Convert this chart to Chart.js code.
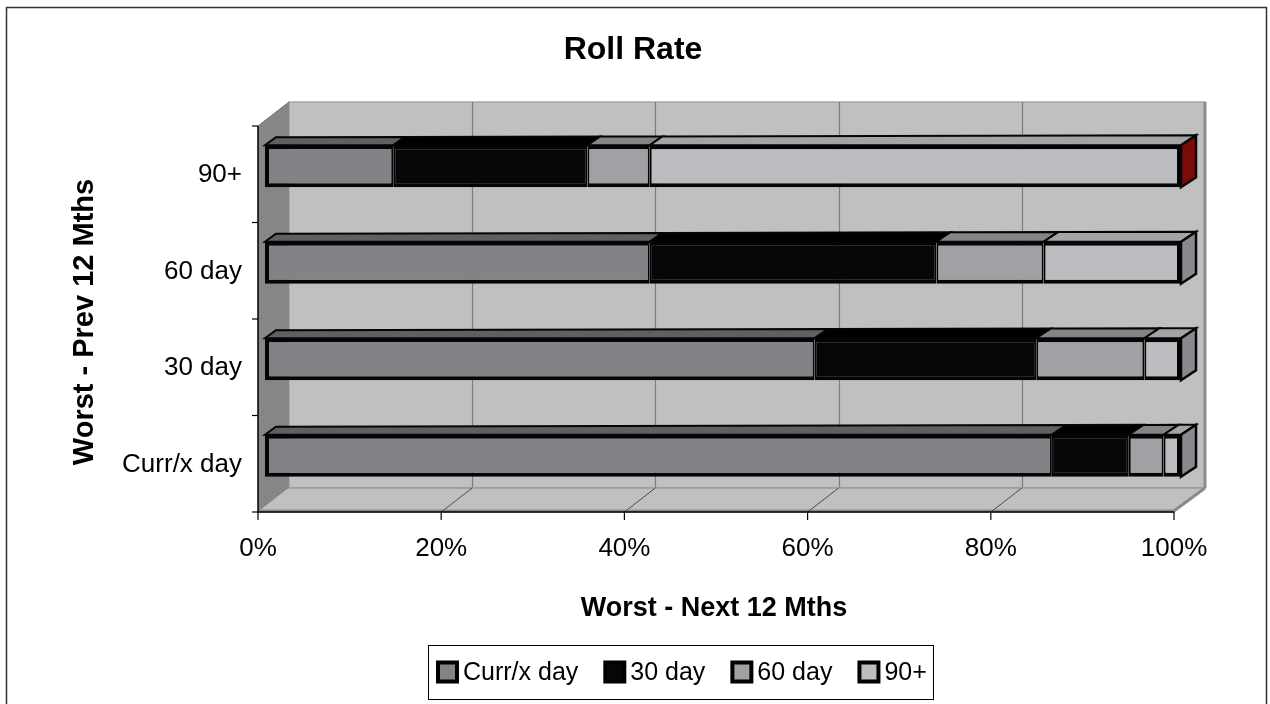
<!DOCTYPE html>
<html>
<head>
<meta charset="utf-8">
<title>Roll Rate</title>
<script src="https://cdn.jsdelivr.net/npm/chart.js@4.4.1/dist/chart.umd.min.js"></script>
<style>
  html, body { margin: 0; padding: 0; background: #fff; overflow: hidden; }
  #wrap { position: relative; width: 1270px; height: 704px; }
</style>
</head>
<body>
<div id="wrap"><canvas id="c" width="1270" height="704"></canvas></div>
<script>
// Rows, top to bottom: worst status over the previous 12 months
const categories = ['90+', '60 day', '30 day', 'Curr/x day'];
// Series: worst status over the next 12 months (percent of each row)
const seriesNames = ['Curr/x day', '30 day', '60 day', '90+'];
const currXDay  = [14.0, 42.0, 60.0, 85.9];
const day30     = [21.2, 31.3, 24.2, 8.4];
const day60     = [6.8, 11.7, 11.8, 3.8];
const day90Plus = [58.0, 15.0, 4.0, 1.9];
const xTickValues = [0, 20, 40, 60, 80, 100];

const FONT = '"Liberation Sans", Arial, Helvetica, sans-serif';
const frontColours = ['#828387', '#060708', '#a0a1a5', '#bcbdc1'];
const topColours   = ['#5f6064', '#000000', '#848589', '#a3a4a8'];
const endCapColours = ['#7a0b0b', '#898a8e', '#898a8e', '#898a8e'];

// offsets of the 3D frame relative to the bar front plane
const AXIS_SHIFT = { x: -7, y: 8 };   // front edge of floor / left wall
const WALL_DEPTH = { x: 31, y: -24 }; // front edge -> back wall

function barDepth(frac) {
  return { x: 11 + 4 * frac, y: -8 - 2 * frac };
}

const frame3d = {
  id: 'frame3d',
  beforeDraw(chart) {
    const ctx = chart.ctx;
    ctx.save();
    ctx.fillStyle = '#fff';
    ctx.fillRect(0, 0, chart.width, chart.height);
    ctx.strokeStyle = '#333';
    ctx.lineWidth = 1.5;
    ctx.beginPath();
    ctx.moveTo(6.5, 704); ctx.lineTo(6.5, 7.5); ctx.lineTo(1266.5, 7.5); ctx.lineTo(1266.5, 704);
    ctx.stroke();
    ctx.restore();
  },
  beforeDatasetsDraw(chart) {
    const ctx = chart.ctx, ca = chart.chartArea, xs = chart.scales.x;
    const fx = v => xs.getPixelForValue(v) + AXIS_SHIFT.x;
    const fTop = ca.top + AXIS_SHIFT.y, fBot = ca.bottom + AXIS_SHIFT.y;
    const fL = fx(0), fR = fx(100);
    const bL = fL + WALL_DEPTH.x, bR = fR + WALL_DEPTH.x;
    const bTop = fTop + WALL_DEPTH.y, bBot = fBot + WALL_DEPTH.y;
    ctx.save();
    // back wall
    ctx.fillStyle = '#c0c0c0';
    ctx.fillRect(bL, bTop, bR - bL, bBot - bTop);
    ctx.strokeStyle = '#a6a6a6'; ctx.lineWidth = 1.5;
    ctx.strokeRect(bL, bTop, bR - bL, bBot - bTop);
    ctx.strokeStyle = '#8c8c8c'; ctx.lineWidth = 3;
    ctx.beginPath(); ctx.moveTo(bR, bTop); ctx.lineTo(bR, bBot); ctx.stroke();
    // back wall gridlines
    ctx.strokeStyle = '#7c7c7c'; ctx.lineWidth = 1.2;
    xTickValues.slice(1, -1).forEach(v => {
      const x = Math.round(fx(v) + WALL_DEPTH.x) + 0.5;
      ctx.beginPath(); ctx.moveTo(x, bTop); ctx.lineTo(x, bBot); ctx.stroke();
    });
    // left side wall
    ctx.fillStyle = '#868686';
    ctx.beginPath();
    ctx.moveTo(fL, fTop); ctx.lineTo(bL, bTop); ctx.lineTo(bL, bBot); ctx.lineTo(fL, fBot);
    ctx.closePath(); ctx.fill();
    ctx.strokeStyle = '#6e6e6e'; ctx.lineWidth = 1;
    ctx.beginPath(); ctx.moveTo(fL, fTop); ctx.lineTo(bL, bTop); ctx.stroke();
    // floor
    ctx.fillStyle = '#c0c0c0';
    ctx.beginPath();
    ctx.moveTo(fL, fBot); ctx.lineTo(fR, fBot); ctx.lineTo(bR, bBot); ctx.lineTo(bL, bBot);
    ctx.closePath(); ctx.fill();
    ctx.strokeStyle = '#9a9a9a'; ctx.lineWidth = 1.5;
    ctx.beginPath(); ctx.moveTo(bL, bBot); ctx.lineTo(bR, bBot); ctx.stroke();
    ctx.strokeStyle = '#8a8a8a'; ctx.lineWidth = 3;
    ctx.beginPath(); ctx.moveTo(fL, fBot - 1); ctx.lineTo(fR, fBot - 1); ctx.lineTo(bR, bBot); ctx.stroke();
    ctx.strokeStyle = '#4a4a4a'; ctx.lineWidth = 1;
    xTickValues.slice(1, -1).forEach(v => {
      ctx.beginPath(); ctx.moveTo(fx(v), fBot); ctx.lineTo(fx(v) + WALL_DEPTH.x, bBot); ctx.stroke();
    });
    // axes
    ctx.strokeStyle = '#000'; ctx.lineWidth = 1.5;
    ctx.beginPath(); ctx.moveTo(fL, fTop); ctx.lineTo(fL, fBot); ctx.lineTo(fR, fBot); ctx.stroke();
    ctx.lineWidth = 1.2;
    const n = categories.length;
    for (let k = 0; k <= n; k++) {
      const y = fTop + k * (fBot - fTop) / n;
      ctx.beginPath(); ctx.moveTo(fL - 6, y); ctx.lineTo(fL, y); ctx.stroke();
    }
    xTickValues.forEach(v => {
      ctx.beginPath(); ctx.moveTo(fx(v), fBot); ctx.lineTo(fx(v), fBot + 8); ctx.stroke();
    });
    ctx.restore();
  },
  afterDatasetsDraw(chart) {
    const ctx = chart.ctx, xs = chart.scales.x;
    const metas = chart.data.datasets.map((d, i) => chart.getDatasetMeta(i));
    ctx.save();
    ctx.lineJoin = 'miter';
    categories.forEach((cat, row) => {
      let lastEnd = null, top = 0, bot = 0;
      metas.forEach((meta, di) => {
        const bar = meta.data[row];
        const p = bar.getProps(['x', 'y', 'base', 'height'], true);
        const x0 = Math.min(p.x, p.base), x1 = Math.max(p.x, p.base);
        top = p.y - p.height / 2; bot = p.y + p.height / 2;
        const d0 = barDepth(xs.getValueForPixel(x0) / 100), d1 = barDepth(xs.getValueForPixel(x1) / 100);
        ctx.fillStyle = topColours[di];
        ctx.beginPath();
        ctx.moveTo(x0, top); ctx.lineTo(x1, top);
        ctx.lineTo(x1 + d1.x, top + d1.y); ctx.lineTo(x0 + d0.x, top + d0.y);
        ctx.closePath(); ctx.fill();
        ctx.strokeStyle = '#050505'; ctx.lineWidth = 2; ctx.stroke();
        lastEnd = x1;
      });
      const d = barDepth(1);
      ctx.fillStyle = endCapColours[row];
      ctx.beginPath();
      ctx.moveTo(lastEnd, top); ctx.lineTo(lastEnd + d.x, top + d.y);
      ctx.lineTo(lastEnd + d.x, bot + d.y); ctx.lineTo(lastEnd, bot);
      ctx.closePath(); ctx.fill();
      ctx.strokeStyle = '#050505'; ctx.lineWidth = 2.5; ctx.stroke();
    });
    ctx.restore();
  },
  afterDraw(chart) {
    const ctx = chart.ctx;
    ctx.save();
    ctx.fillStyle = '#000';
    // chart title
    ctx.font = 'bold 32px ' + FONT;
    ctx.textAlign = 'center'; ctx.textBaseline = 'alphabetic';
    ctx.fillText('Roll Rate', 633, 59);
    // axis titles
    ctx.font = 'bold 27px ' + FONT;
    ctx.fillText('Worst - Next 12 Mths', 714, 616);
    ctx.save();
    ctx.translate(93, 322);
    ctx.rotate(-Math.PI / 2);
    ctx.font = 'bold 29px ' + FONT;
    ctx.fillText('Worst - Prev 12 Mths', 0, 0);
    ctx.restore();
    // legend
    ctx.font = '25px ' + FONT;
    ctx.textAlign = 'left'; ctx.textBaseline = 'middle';
    const cy = 672, sq = 23;
    let x = 436;
    chart.data.datasets.forEach((ds, i) => {
      ctx.fillStyle = '#000';
      ctx.fillRect(x, cy - sq / 2, sq, sq);
      ctx.fillStyle = ds.backgroundColor;
      ctx.fillRect(x + 4, cy - sq / 2 + 4, sq - 8, sq - 8);
      ctx.fillStyle = '#000';
      ctx.fillText(ds.label, x + sq + 4, cy + 1);
      x += sq + 4 + ctx.measureText(ds.label).width + 25;
    });
    ctx.strokeStyle = '#000'; ctx.lineWidth = 1;
    ctx.strokeRect(428.5, 645.5, Math.round(x - 25 + 6 - 428), 54);
    ctx.restore();
  }
};

const seriesValues = [currXDay, day30, day60, day90Plus];
const last = seriesValues.length - 1;
const datasets = seriesValues.map((vals, i) => ({
  label: seriesNames[i],
  data: vals,
  backgroundColor: frontColours[i],
  borderColor: '#050505',
  borderSkipped: false,
  borderWidth: { top: 4, bottom: 4, left: i === 0 ? 4 : 2, right: i === last ? 4 : 2 },
  barPercentage: 0.435,
  categoryPercentage: 1
}));

new Chart(document.getElementById('c'), {
  type: 'bar',
  data: { labels: categories, datasets },
  plugins: [frame3d],
  options: {
    indexAxis: 'y',
    responsive: false,
    animation: false,
    devicePixelRatio: 1,
    layout: { padding: { left: 0, right: 89, top: 118, bottom: 0 } },
    plugins: { legend: { display: false }, title: { display: false }, tooltip: { enabled: false } },
    scales: {
      x: {
        type: 'linear', stacked: true, min: 0, max: 100,
        grid: { display: false, drawTicks: false },
        border: { display: false },
        ticks: {
          stepSize: 20, autoSkip: false, maxRotation: 0,
          callback: v => v + '%',
          font: { family: FONT, size: 26 }, color: '#000',
          padding: 29, labelOffset: -7
        },
        afterFit(s) { s.height = 200; }
      },
      y: {
        stacked: true,
        grid: { display: false, drawTicks: false },
        border: { display: false },
        ticks: { font: { family: FONT, size: 26 }, color: '#000', padding: 23, labelOffset: 9 },
        afterFit(s) { s.width = 265; }
      }
    }
  }
});
</script>
</body>
</html>
